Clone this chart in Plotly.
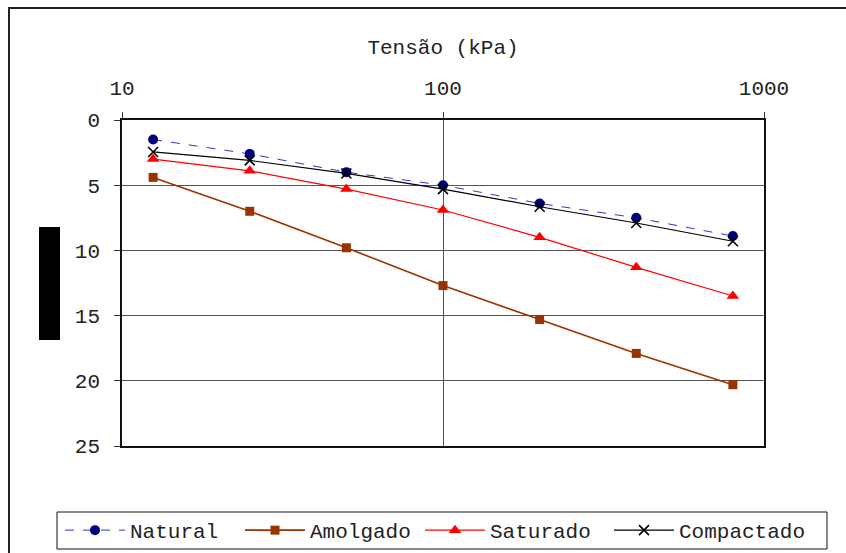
import plotly.graph_objects as go

# Stress steps (kPa) and settlement readings for each sample condition
tensao = [12.5, 25, 50, 100, 200, 400, 800]
natural = [1.5, 2.6, 4.0, 5.0, 6.4, 7.5, 8.9]
amolgado = [4.4, 7.0, 9.8, 12.7, 15.3, 17.9, 20.3]
saturado = [3.0, 3.9, 5.3, 6.9, 9.0, 11.3, 13.5]
compactado = [2.45, 3.1, 4.1, 5.3, 6.65, 7.9, 9.3]

x_ticks = [10, 100, 1000]
y_ticks = [0, 5, 10, 15, 20, 25]

FONT = "Liberation Mono, Courier New, monospace"
TXT = "#222222"

fig = go.Figure()
fig.add_trace(go.Scatter(
    x=tensao, y=natural, name="Natural", mode="lines+markers",
    line=dict(color="#3333cc", width=1, dash="dash"),
    marker=dict(symbol="circle", size=10, color="#000080"),
))
fig.add_trace(go.Scatter(
    x=tensao, y=amolgado, name="Amolgado", mode="lines+markers",
    line=dict(color="#993300", width=1.6),
    marker=dict(symbol="square", size=9, color="#993300"),
))
fig.add_trace(go.Scatter(
    x=tensao, y=saturado, name="Saturado", mode="lines+markers",
    line=dict(color="#ff0000", width=1.2),
    marker=dict(symbol="triangle-up", size=11, color="#ff0000"),
))
fig.add_trace(go.Scatter(
    x=tensao, y=compactado, name="Compactado", mode="lines+markers",
    line=dict(color="#000000", width=1.2),
    marker=dict(symbol="x-thin", size=10, line=dict(color="#000000", width=1.6)),
    legend="legend2",
))

W, H = 846, 553
L, R, T, B = 122, 82, 120, 107
pw, ph = W - L - R, H - T - B


def px_x(v):
    return (v - L) / pw


def px_y(v):
    return (H - B - v) / ph


legend_common = dict(
    orientation="h", xanchor="left", yanchor="top", y=px_y(510),
    borderwidth=0, bgcolor="rgba(0,0,0,0)",
    font=dict(family=FONT, size=21, color=TXT),
    itemwidth=60, tracegroupgap=0,
)

fig.update_layout(
    width=W, height=H,
    margin=dict(l=L, r=R, t=T, b=B, autoexpand=False),
    paper_bgcolor="white", plot_bgcolor="white",
    font=dict(family=FONT, size=21, color=TXT),
    showlegend=True,
    legend=dict(x=px_x(60), entrywidth=105, **legend_common),
    legend2=dict(x=px_x(609), **legend_common),
    xaxis=dict(
        type="log", range=[1, 3], side="top",
        tickvals=x_ticks, ticktext=[str(t) for t in x_ticks],
        ticks="outside", ticklen=6, tickcolor="#333333",
        showgrid=True, gridcolor="#555555", gridwidth=1,
        showline=True, linecolor="#111111", linewidth=1.5, mirror=True,
        ticklabelstandoff=9,
        title=dict(text="Tensão (kPa)", standoff=17,
                   font=dict(family=FONT, size=21, color=TXT)),
        zeroline=False,
    ),
    yaxis=dict(
        range=[25, 0], tickvals=y_ticks,
        ticks="outside", ticklen=6, tickcolor="#333333",
        showgrid=True, gridcolor="#555555", gridwidth=1,
        showline=True, linecolor="#111111", linewidth=1.5, mirror=True,
        ticklabelstandoff=10, zeroline=False,
    ),
    shapes=[
        # outer chart frame
        dict(type="rect", xref="paper", yref="paper",
             x0=px_x(9), x1=px_x(860), y0=px_y(570), y1=px_y(8),
             line=dict(color="#222222", width=2), fillcolor="rgba(0,0,0,0)",
             layer="below"),
        # frame around the legend row
        dict(type="rect", xref="paper", yref="paper",
             x0=px_x(57), x1=px_x(827), y0=px_y(549), y1=px_y(512),
             line=dict(color="#111111", width=1), fillcolor="white",
             layer="below"),
        # solid block over the vertical axis caption
        dict(type="rect", xref="paper", yref="paper",
             x0=px_x(39), x1=px_x(60), y0=px_y(340), y1=px_y(227),
             line=dict(width=0), fillcolor="#000000"),
    ],
)

fig.write_html("out.html")
